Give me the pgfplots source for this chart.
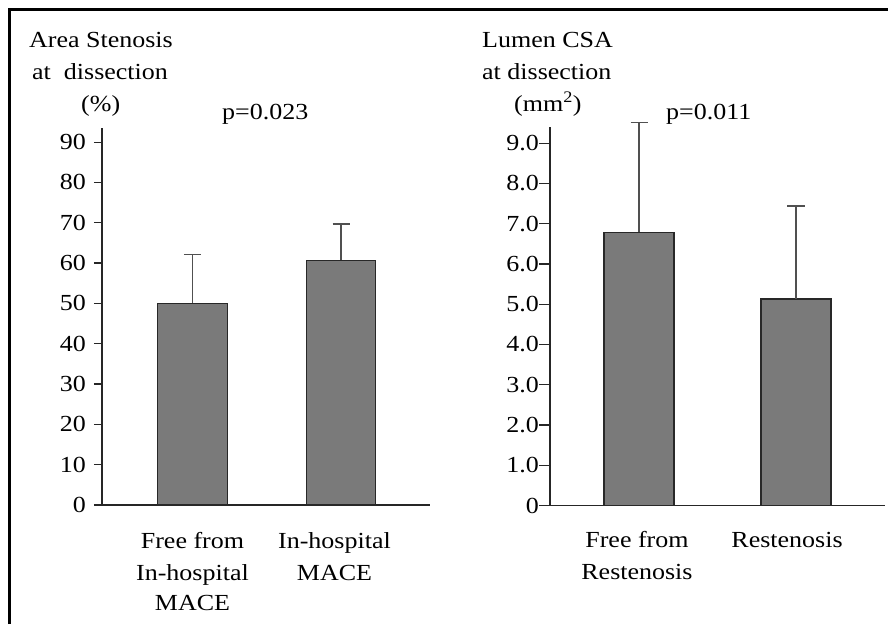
\documentclass[border=0pt]{standalone}
\usepackage{fontspec}
\setmainfont{Liberation Serif}[FakeStretch=1.13]
\usepackage{pgfplots}
\pgfplotsset{compat=1.18}
\definecolor{bargray}{RGB}{122,122,122}
\definecolor{edgegray}{RGB}{40,40,40}
\definecolor{errgray}{RGB}{80,80,80}
\pgfplotsset{
  panel/.style={
    scale only axis, axis x line=bottom, axis y line=left,
    axis line style={-, line width=1.2pt, black!85},
    ymin=0, tick align=outside,
    ytick style={line width=1.2pt, black!85},
    xtick=\empty,
    y tick label style={inner sep=0pt, font=\fontsize{23}{31}\selectfont},
    /pgf/number format/assume math mode=true,
    clip=false, ybar,
  },
  barplot/.style={fill=bargray, draw=edgegray, line width=1.2pt,
    error bars/.cd, y dir=plus, y explicit,
    error bar style={line width=1.2pt, errgray},
    error mark options={rotate=90, mark size=8.5pt, line width=1.2pt, errgray}},
}
\begin{document}
\begin{tikzpicture}
\fontsize{23}{31}\selectfont
\path[use as bounding box] (0pt,0pt) rectangle (888pt,624pt);
\draw[line width=3pt] (9.5pt,0pt) -- (9.5pt,614.5pt) -- (888pt,614.5pt);

% titles
\node[anchor=base west, inner sep=0pt] at (29pt,576pt) {Area Stenosis};
\node[anchor=base west, inner sep=0pt] at (32pt,544pt) {at\ \ dissection};
\node[anchor=base west, inner sep=0pt] at (81pt,512pt) {(\%)};
\node[anchor=base west, inner sep=0pt] at (222pt,504pt) {p=0.023};
\node[anchor=base west, inner sep=0pt] at (482pt,576pt) {Lumen CSA};
\node[anchor=base west, inner sep=0pt] at (482pt,544pt) {at dissection};
\node[anchor=base west, inner sep=0pt] at (514pt,512pt) {(mm\textsuperscript{2})};
\node[anchor=base west, inner sep=0pt] at (666pt,504pt) {p=0.011};

\begin{axis}[panel, at={(102pt,119pt)}, anchor=south west,
  width=328pt, height=377pt,
  xmin=-0.609, xmax=1.599, ymax=93.5,
  major tick length=8pt,
  ytick={0,10,20,30,40,50,60,70,80,90},
  yticklabels={0,10,20,30,40,50,60,70,80,90},
  y tick label style={xshift=-8pt},
  bar width=0.468]
\addplot[barplot] coordinates {(0,50) +- (0,12.1) (1,60.7) +- (0,9.0)};
\node[anchor=base, inner sep=0pt, yshift=-43pt] at (axis cs:0,0) {Free from};
\node[anchor=base, inner sep=0pt, yshift=-75pt] at (axis cs:0,0) {In-hospital};
\node[anchor=base, inner sep=0pt, yshift=-105pt] at (axis cs:0,0) {MACE};
\node[anchor=base, inner sep=0pt, yshift=-43pt] at (axis cs:0.956,0) {In-hospital};
\node[anchor=base, inner sep=0pt, yshift=-75pt] at (axis cs:0.956,0) {MACE};
\end{axis}

\begin{axis}[panel, at={(550pt,118.5pt)}, anchor=south west,
  width=335pt, height=378pt,
  xmin=-0.567, xmax=1.567, ymax=9.39,
  major tick length=11pt,
  ytick={0,1,2,3,4,5,6,7,8,9},
  yticklabels={0,1.0,2.0,3.0,4.0,5.0,6.0,7.0,8.0,9.0},
  bar width=0.446]
\addplot[barplot] coordinates {(0,6.79) +- (0,2.72) (1,5.13) +- (0,2.31)};
\node[anchor=base, inner sep=0pt, yshift=-42pt] at (axis cs:-0.013,0) {Free from};
\node[anchor=base, inner sep=0pt, yshift=-74pt] at (axis cs:-0.013,0) {Restenosis};
\node[anchor=base, inner sep=0pt, yshift=-42pt] at (axis cs:0.943,0) {Restenosis};
\end{axis}
\end{tikzpicture}
\end{document}
